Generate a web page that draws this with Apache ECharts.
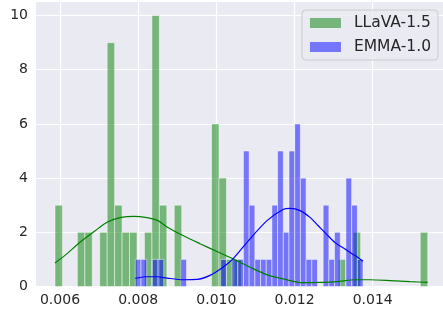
<!DOCTYPE html>
<html><head><meta charset="utf-8">
<script src="https://cdn.jsdelivr.net/npm/echarts@6/dist/echarts.min.js"></script>
<style>html,body{margin:0;padding:0;background:#fff}#c{width:443px;height:310px}</style>
</head><body><div id="c"></div>
<script>
// ---- data ----
const seriesNames = ['LLaVA-1.5', 'EMMA-1.0'];
const xTicks = [0.006, 0.008, 0.010, 0.012, 0.014];
const yTicks = [0, 2, 4, 6, 8, 10];

// histogram bin range and counts
const llavaBinRange = [0.005872, 0.015407];
const llavaCounts = [3,0,0,2,2,0,2,9,3,2, 2,0,2,10,3,0,3,0,0,0, 0,6,4,1,1,0,0,0,0,0, 0,0,0,0,0,0,0,0,1,0, 2,0,0,0,0,0,0,0,0,2];
const emmaBinRange = [0.007926, 0.013752];
const emmaCounts = [1,1,0,1,1,0,0,0,1,0, 0,0,0,0,0,1,0,1,1,5, 3,1,1,1,3,5,2,5,6,4, 1,1,0,3,1,2,0,4,3,1];

// KDE curves (scaled to counts)
const llavaKdeX = [0.005872,0.006128,0.006512,0.006895,0.007202,0.007535,0.007893,0.008226,0.008507,0.008737,0.009147,0.009581,0.010016,0.010426,0.010861,0.011296,0.011705,0.012216,0.012651,0.013086,0.013547,0.013930,0.014442,0.014954,0.015407];
const llavaKdeY = [0.87,1.15,1.63,2.05,2.37,2.54,2.59,2.54,2.43,2.20,1.88,1.58,1.29,1.02,0.71,0.43,0.28,0.14,0.15,0.18,0.25,0.25,0.22,0.18,0.15];
const emmaKdeX = [0.007926,0.008174,0.008481,0.008737,0.009147,0.009505,0.009837,0.010170,0.010426,0.010861,0.011296,0.011705,0.011884,0.012140,0.012395,0.012600,0.012805,0.013035,0.013291,0.013547,0.013752];
const emmaKdeY = [0.30,0.36,0.36,0.31,0.25,0.26,0.41,0.71,1.02,1.76,2.43,2.84,2.88,2.80,2.55,2.25,1.95,1.62,1.38,1.14,0.93];

// ---- chart ----
const FONT = 'DejaVu Sans';
const TXT = '#262626';
const GREEN_FILL = 'rgba(0,128,0,0.5)';
const BLUE_FILL = 'rgba(0,0,255,0.5)';

function barSeries(name, range, counts, fill) {
  const w = (range[1] - range[0]) / counts.length;
  return {
    type: 'custom', name: name,
    itemStyle: { color: fill },
    encode: { x: [0, 1], y: 2 },
    data: counts.map((c, i) => [range[0] + i * w, range[0] + (i + 1) * w, c]),
    renderItem: function (params, api) {
      const c = api.value(2);
      if (!c) return null;
      const p0 = api.coord([api.value(0), c]);
      const p1 = api.coord([api.value(1), 0]);
      return {
        type: 'rect',
        shape: { x: p0[0], y: p0[1], width: p1[0] - p0[0], height: p1[1] - p0[1] },
        style: { fill: fill, stroke: 'rgba(255,255,255,0.6)', lineWidth: 0.8 }
      };
    },
    z: 2
  };
}
function kdeSeries(name, xs, ys, color) {
  return {
    type: 'line', name: name, data: xs.map((x, i) => [x, ys[i]]),
    showSymbol: false, smooth: 0.25,
    lineStyle: { color: color, width: 1.2 }, itemStyle: { color: color },
    z: 5, silent: true
  };
}

const chart = echarts.init(document.getElementById('c'), null, { renderer: 'canvas' });
chart.setOption({
  animation: false,
  backgroundColor: '#ffffff',
  grid: { left: 36, right: 0, top: 2, bottom: 23.5, show: true, backgroundColor: '#EAEAF2', borderWidth: 0 },
  xAxis: {
    type: 'value', min: 0.005386, max: 0.015798,
    axisLine: { show: false },
    axisTick: { show: false, customValues: xTicks },
    axisLabel: { customValues: xTicks, formatter: v => v.toFixed(3), color: TXT, fontSize: 14, fontFamily: FONT, margin: 7 },
    splitLine: { show: true, lineStyle: { color: '#ffffff', width: 1.2 } }
  },
  yAxis: {
    type: 'value', min: 0, max: 10.5,
    axisLine: { show: false },
    axisTick: { show: false, customValues: yTicks },
    axisLabel: { customValues: yTicks, color: TXT, fontSize: 14, fontFamily: FONT, margin: 8 },
    splitLine: { show: true, lineStyle: { color: '#ffffff', width: 1.2 } }
  },
  legend: {
    data: [
      { name: seriesNames[0], itemStyle: { color: GREEN_FILL } },
      { name: seriesNames[1], itemStyle: { color: BLUE_FILL } }
    ],
    orient: 'vertical', right: 5, top: 10,
    icon: 'rect', itemWidth: 31, itemHeight: 10, itemGap: 8,
    padding: [5, 7, 5, 8],
    backgroundColor: 'rgba(234,234,242,0.8)', borderColor: '#cccccc', borderWidth: 1, borderRadius: 4,
    textStyle: { fontSize: 15.5, color: TXT, fontFamily: FONT, padding: [0, 0, 0, 8] },
    selectedMode: false
  },
  series: [
    barSeries(seriesNames[0], llavaBinRange, llavaCounts, GREEN_FILL),
    barSeries(seriesNames[1], emmaBinRange, emmaCounts, BLUE_FILL),
    kdeSeries(seriesNames[0] + ' KDE', llavaKdeX, llavaKdeY, '#008000'),
    kdeSeries(seriesNames[1] + ' KDE', emmaKdeX, emmaKdeY, '#0000ff')
  ]
});
</script></body></html>
